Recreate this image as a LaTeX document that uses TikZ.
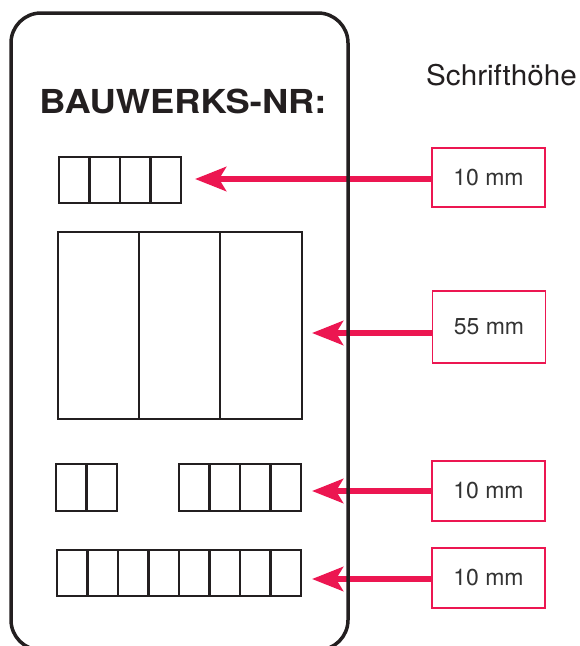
\documentclass[tikz,border=0pt]{standalone}
\usepackage{fontspec}
\setmainfont{TeX Gyre Heros}
\newfontfamily\titlefont[FakeStretch=1.1]{TeX Gyre Heros}
\newfontfamily\headfont[FakeStretch=1.04]{TeX Gyre Heros}
\usepackage{tikz}
\usetikzlibrary{arrows.meta,positioning,calc}
\definecolor{signred}{HTML}{EC1651}
\definecolor{signink}{HTML}{231F20}
\definecolor{labelgray}{HTML}{333333}
\tikzset{cell/.style={draw=signink, line width=2.4pt},
         sizebox/.style={draw=signred, line width=1.2pt, minimum width=113pt, inner sep=0pt,
                         text=labelgray, font=\fontsize{23}{26}\selectfont},
         pointer/.style={signred, line width=6pt, -{Stealth[length=31pt,width=24pt,inset=7pt]}}}

\begin{document}
\begin{tikzpicture}[x=1pt,y=-1pt]
\useasboundingbox (0,0) rectangle (579,646);

\node[anchor=base, inner sep=0pt, font=\titlefont\bfseries\fontsize{33}{36}\selectfont, text=signink] (title) at (183,113) {BAUWERKS-NR:};
\node[anchor=base west, inner sep=0pt, font=\headfont\fontsize{28.5}{32}\selectfont, text=signink] (hoehe) at (426,85) {Schrifthöhe};

% row 1
\draw[cell] (59,157) rectangle (89.5,203);
\draw[cell] (89.5,157) rectangle (120,203);
\draw[cell] (120,157) rectangle (150.5,203);
\draw[cell] (150.5,157) rectangle (181,203);

% row 2
\draw[cell] (58,232) rectangle (139,419);
\draw[cell] (139,232) rectangle (220,419);
\draw[cell] (220,232) rectangle (302,419);

% row 3
\draw[cell] (56,464) rectangle (86.5,511);
\draw[cell] (86.5,464) rectangle (117,511);
\draw[cell] (179,464) rectangle (209.5,511);
\draw[cell] (209.5,464) rectangle (240,511);
\draw[cell] (240,464) rectangle (270.5,511);
\draw[cell] (270.5,464) rectangle (301,511);

% row 4
\draw[cell] (57,550) rectangle (87.5,596);
\draw[cell] (87.5,550) rectangle (118,596);
\draw[cell] (118,550) rectangle (148.5,596);
\draw[cell] (148.5,550) rectangle (179,596);
\draw[cell] (179,550) rectangle (209.5,596);
\draw[cell] (209.5,550) rectangle (240,596);
\draw[cell] (240,550) rectangle (270.5,596);
\draw[cell] (270.5,550) rectangle (301,596);

\node[sizebox, minimum height=59pt] (b1) at (488.5,177.5) {10 mm};
\node[sizebox, minimum height=72pt] (b2) at (489,327) {55 mm};
\node[sizebox, minimum height=60pt] (b3) at (488.5,491) {10 mm};
\node[sizebox, minimum height=60pt] (b4) at (488.5,578) {10 mm};

\coordinate (t1) at (195,179);
\coordinate (t2) at (312,333);
\coordinate (t3) at (312,491);
\coordinate (t4) at (312,579);

\draw[pointer] (b1.west |- t1) -- (t1);
\draw[pointer] (b2.west |- t2) -- (t2);
\draw[pointer] (b3.west |- t3) -- (t3);
\draw[pointer] (b4.west |- t4) -- (t4);

% sign outline
\draw[signink, line width=3.5pt, rounded corners=30pt] (11,13) rectangle (348,650);
\end{tikzpicture}
\end{document}
